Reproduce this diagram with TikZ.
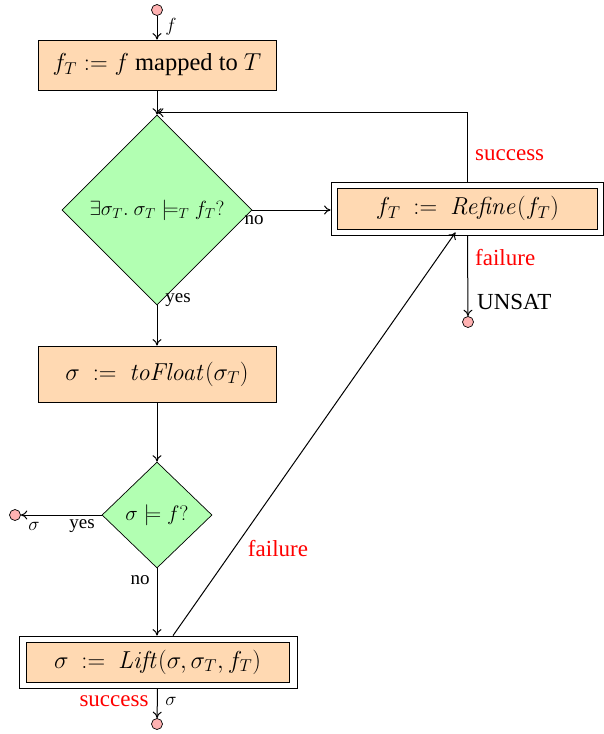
\RequirePackage{fix-cm}
\documentclass[tikz,border=0pt]{standalone}
\usepackage[no-math]{fontspec}
\setmainfont{Liberation Serif}
\usetikzlibrary{shapes.geometric,arrows.meta}

\begin{document}
\begin{tikzpicture}[x=1pt,y=-1pt,
  arr/.style={line width=1pt,-{To[length=6.5pt,width=9pt]}},
  stepbox/.style={draw,line width=0.8pt,fill=orange!30,minimum width=238pt,inner sep=0pt,
    font=\fontsize{24.5}{28}\selectfont},
  framebox/.style={draw,line width=0.8pt,inner sep=0pt},
  decision/.style={draw,line width=0.7pt,diamond,fill=green!30,inner sep=0pt},
  terminal/.style={draw,line width=0.7pt,circle,fill=red!30,minimum size=11pt,inner sep=0pt},
  lbl/.style={font=\fontsize{19}{22}\selectfont,inner sep=0pt},
  redlbl/.style={font=\fontsize{23}{27}\selectfont,text=red,inner sep=0pt},
]
\useasboundingbox (0,0) rectangle (603,734);

% terminals
\node[terminal] (start) at (157,10) {};
\node[terminal] (unsat) at (468,322) {};
\node[terminal] (sat) at (15,515) {};
\node[terminal] (done) at (157,724) {};

% steps and decisions
\node[stepbox,minimum height=50pt] (map) at (157,65) {$f_T := f$ mapped to $T$};
\node[decision,minimum width=190pt,minimum height=190pt,
  font=\fontsize{20.5}{24}\selectfont] (check) at (157,210)
  {$\exists\sigma_T.\ \sigma_T \models_T f_T?$};
\node[framebox,minimum width=272pt,minimum height=53pt] (refineframe) at (467,208.5) {};
\node[stepbox,minimum width=260pt,minimum height=41pt] (refine) at (467.5,208.5)
  {$f_T\ :=\ \mathit{Refine}(f_T)$};
\node[stepbox,minimum height=56pt] (float) at (157,374)
  {$\sigma\ :=\ \mathit{toFloat}(\sigma_T)$};
\node[decision,minimum width=110pt,minimum height=106pt,aspect=1.04,
  font=\fontsize{21}{25}\selectfont] (valid) at (157,515)
  {$\sigma \models f?$};
\node[framebox,minimum width=278pt,minimum height=52pt] (liftframe) at (158,662) {};
\node[stepbox,minimum width=263pt,minimum height=40pt] (lift) at (157.5,662)
  {$\sigma\ :=\ \mathit{Lift}(\sigma,\sigma_T,f_T)$};

% connectors
\draw[arr] (start) -- (map.north);
\draw[arr] (map.south) -- (check.north);
\draw[arr] (check.east) -- (check.east -| refineframe.west);
\draw[arr] (refineframe.north -| refine.north) |- ([yshift=2pt]check.north);
\draw[arr] (refineframe.south -| refine.south) -- (unsat);
\draw[arr] (check.south) -- (float.north);
\draw[arr] (float.south) -- (valid.north);
\draw[arr] (valid.west) -- (sat);
\draw[arr] (valid.south) -- (valid.south |- liftframe.north);
\draw[arr] ([xshift=15pt]liftframe.north) -- ([xshift=-12pt,yshift=-3pt]refine.south);
\draw[arr] (liftframe.south -| lift.south) -- (done);

% labels
\node[lbl] (lf) at (171,27) {$f$};
\node[lbl] (lno1) at (254,220) {no};
\node[lbl] (lyes1) at (178,300) {yes};
\node[redlbl,anchor=west] (lsucc1) at (475,155) {success};
\node[redlbl,anchor=west] (lfail1) at (475,258) {failure};
\node[font=\fontsize{23}{27}\selectfont,inner sep=0pt,anchor=west] (lunsat) at (477,302) {UNSAT};
\node[lbl] (lyes2) at (82,526) {yes};
\node[lbl] (lsig1) at (34,526) {$\sigma$};
\node[lbl] (lno2) at (140,580) {no};
\node[redlbl] (lfail2) at (278,549) {failure};
\node[redlbl] (lsucc2) at (114,701) {success};
\node[lbl] (lsig2) at (171,701) {$\sigma$};
\end{tikzpicture}
\end{document}
